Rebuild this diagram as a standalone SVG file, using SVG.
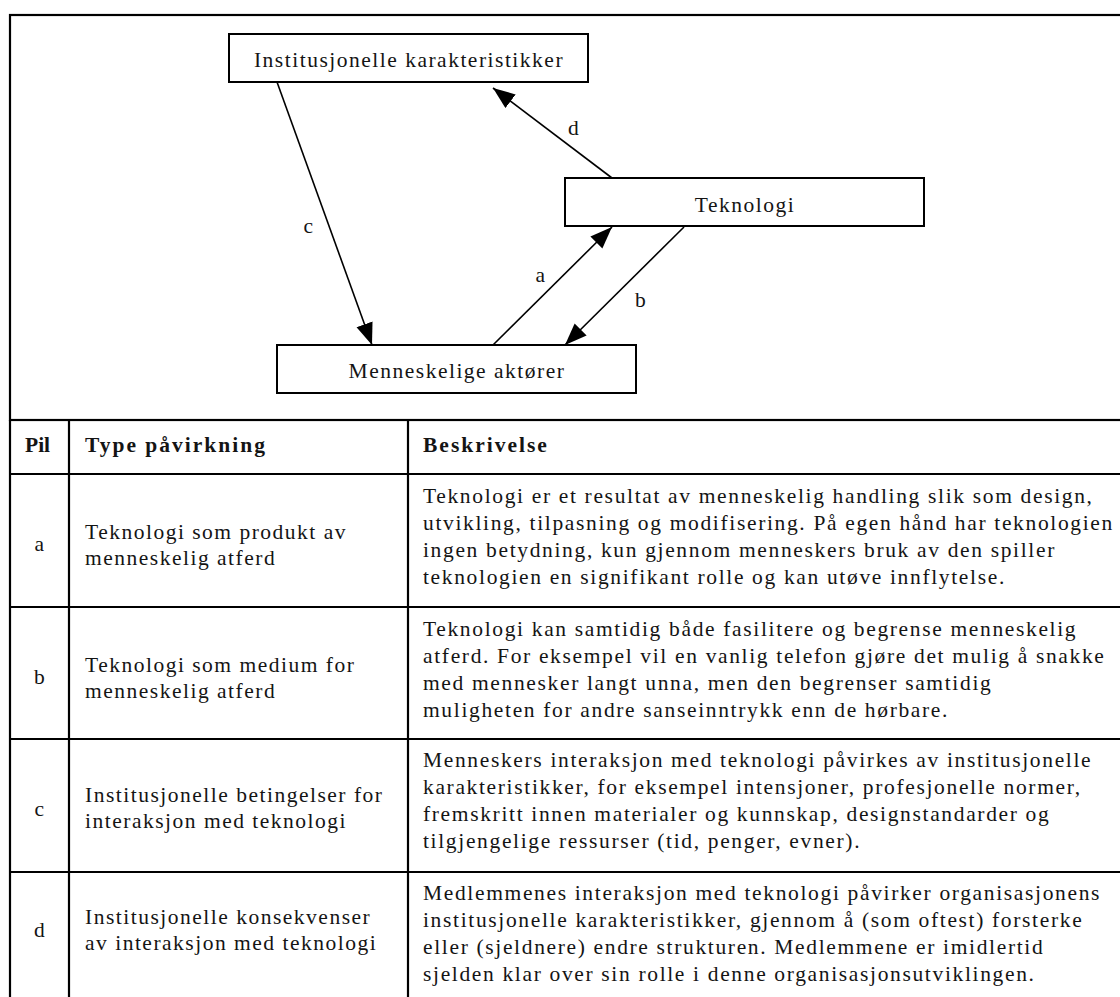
<svg xmlns="http://www.w3.org/2000/svg" width="1120" height="997" viewBox="0 0 1120 997">
  <style>
    text { font-family: "Liberation Serif", "Times New Roman", serif; font-size: 21.5px; letter-spacing: 1.5px; fill: #141414; }
    .desc { letter-spacing: 1.65px; }
    .head { font-weight: bold; letter-spacing: 2px; }
    .mid { text-anchor: middle; }
    .box { fill: #fff; stroke: #000; stroke-width: 2; }
    .rule { stroke: #000; stroke-width: 2.2; fill: none; }
    .conn { stroke: #000; stroke-width: 1.6; fill: none; marker-end: url(#arrow); }
  </style>
  <defs>
    <marker id="arrow" markerUnits="userSpaceOnUse" markerWidth="23" markerHeight="18" refX="22" refY="8.5" orient="auto">
      <path d="M0,0 L22,8.5 L0,17 Z" fill="#000"/>
    </marker>
  </defs>

  <rect width="1120" height="997" fill="#fff"/>

  <!-- frame around the model -->
  <rect class="rule" x="10" y="15" width="1120" height="405"/>

  <!-- connectors -->
  <g id="connectors">
    <line class="conn" x1="277" y1="82" x2="372" y2="345"/>
    <line class="conn" x1="612" y1="178" x2="493" y2="88"/>
    <line class="conn" x1="493" y1="345" x2="612" y2="227"/>
    <line class="conn" x1="684" y1="227" x2="565" y2="345"/>
    <text x="309" y="233" class="mid">c</text>
    <text x="574" y="135" class="mid">d</text>
    <text x="541" y="282" class="mid">a</text>
    <text x="641" y="307" class="mid">b</text>
  </g>

  <g id="node-institusjonelle">
    <rect class="box" x="229" y="34" width="359" height="48"/>
    <text x="409" y="67" class="mid">Institusjonelle karakteristikker</text>
  </g>
  <g id="node-teknologi">
    <rect class="box" x="565" y="178" width="359" height="48"/>
    <text x="745" y="212" class="mid">Teknologi</text>
  </g>
  <g id="node-aktorer">
    <rect class="box" x="277" y="345" width="359" height="48"/>
    <text x="457" y="378" class="mid">Menneskelige aktører</text>
  </g>

  <!-- table grid -->
  <g id="table-grid">
    <line class="rule" x1="10" y1="420" x2="1120" y2="420"/>
    <line class="rule" x1="10" y1="474" x2="1120" y2="474"/>
    <line class="rule" x1="10" y1="607" x2="1120" y2="607"/>
    <line class="rule" x1="10" y1="739" x2="1120" y2="739"/>
    <line class="rule" x1="10" y1="872" x2="1120" y2="872"/>
    <line class="rule" x1="10" y1="420" x2="10" y2="997"/>
    <line class="rule" x1="69" y1="420" x2="69" y2="997"/>
    <line class="rule" x1="408" y1="420" x2="408" y2="997"/>
  </g>

  <g id="table-header">
    <text x="25" y="452" class="head" style="letter-spacing:0">Pil</text>
    <text x="85" y="452" class="head">Type påvirkning</text>
    <text x="423" y="452" class="head">Beskrivelse</text>
  </g>

  <g id="row-a">
    <text x="40" y="551" class="mid">a</text>
    <text x="85" y="539">Teknologi som produkt av</text>
    <text x="85" y="565">menneskelig atferd</text>
    <text x="423" y="503" class="desc">Teknologi er et resultat av menneskelig handling slik som design,</text>
    <text x="423" y="530" class="desc">utvikling, tilpasning og modifisering. På egen hånd har teknologien</text>
    <text x="423" y="557" class="desc">ingen betydning, kun gjennom menneskers bruk av den spiller</text>
    <text x="423" y="584" class="desc">teknologien en signifikant rolle og kan utøve innflytelse.</text>
  </g>

  <g id="row-b">
    <text x="40" y="684" class="mid">b</text>
    <text x="85" y="672">Teknologi som medium for</text>
    <text x="85" y="698">menneskelig atferd</text>
    <text x="423" y="636" class="desc">Teknologi kan samtidig både fasilitere og begrense menneskelig</text>
    <text x="423" y="663" class="desc">atferd. For eksempel vil en vanlig telefon gjøre det mulig å snakke</text>
    <text x="423" y="690" class="desc">med mennesker langt unna, men den begrenser samtidig</text>
    <text x="423" y="717" class="desc">muligheten for andre sanseinntrykk enn de hørbare.</text>
  </g>

  <g id="row-c">
    <text x="40" y="816" class="mid">c</text>
    <text x="85" y="802">Institusjonelle betingelser for</text>
    <text x="85" y="828">interaksjon med teknologi</text>
    <text x="423" y="767" class="desc">Menneskers interaksjon med teknologi påvirkes av institusjonelle</text>
    <text x="423" y="794" class="desc">karakteristikker, for eksempel intensjoner, profesjonelle normer,</text>
    <text x="423" y="821" class="desc">fremskritt innen materialer og kunnskap, designstandarder og</text>
    <text x="423" y="848" class="desc">tilgjengelige ressurser (tid, penger, evner).</text>
  </g>

  <g id="row-d">
    <text x="40" y="937" class="mid">d</text>
    <text x="85" y="924">Institusjonelle konsekvenser</text>
    <text x="85" y="950">av interaksjon med teknologi</text>
    <text x="423" y="900" class="desc">Medlemmenes interaksjon med teknologi påvirker organisasjonens</text>
    <text x="423" y="927" class="desc">institusjonelle karakteristikker, gjennom å (som oftest) forsterke</text>
    <text x="423" y="954" class="desc">eller (sjeldnere) endre strukturen. Medlemmene er imidlertid</text>
    <text x="423" y="981" class="desc">sjelden klar over sin rolle i denne organisasjonsutviklingen.</text>
  </g>
</svg>
